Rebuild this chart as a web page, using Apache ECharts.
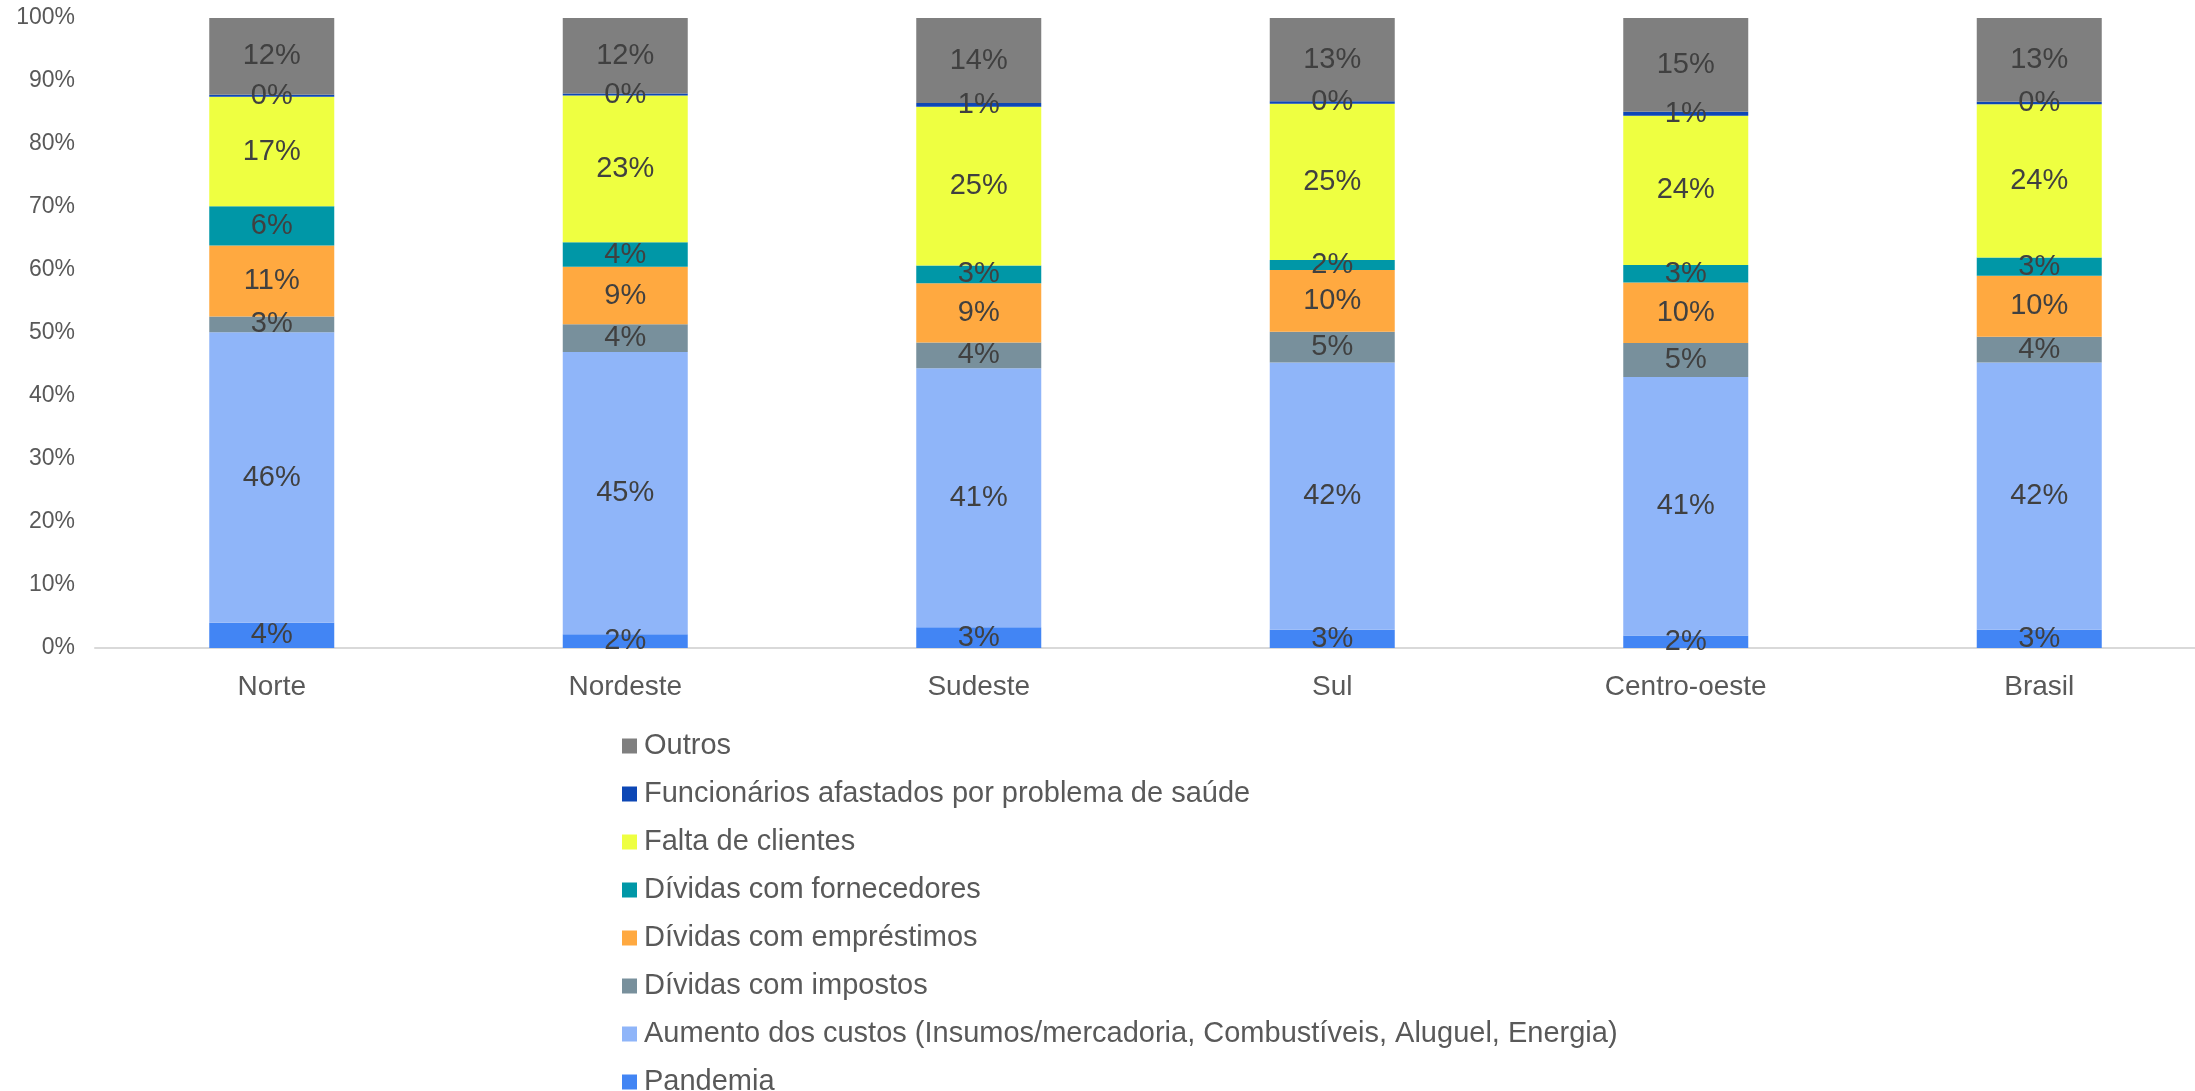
<!DOCTYPE html>
<html>
<head>
<meta charset="utf-8">
<script src="https://cdn.jsdelivr.net/npm/echarts@6/dist/echarts.min.js"></script>
<style>
  html, body { margin: 0; padding: 0; background: #fff; overflow: hidden; }
  #container { width: 2216px; height: 1091px; }
</style>
</head>
<body>
<div id="container"></div>
<script>
// regiões
var regioes = ['Norte', 'Nordeste', 'Sudeste', 'Sul', 'Centro-oeste', 'Brasil'];

// valores (%), de baixo para cima na pilha
var pandemia      = [4.0, 2.2, 3.3, 2.9, 2.0, 2.9];
var aumentoCustos = [46.1, 44.8, 41.1, 42.4, 41.0, 42.4];
var impostos      = [2.5, 4.4, 4.1, 4.9, 5.4, 4.1];
var emprestimos   = [11.3, 9.1, 9.4, 9.8, 9.6, 9.7];
var fornecedores  = [6.2, 3.9, 2.8, 1.6, 2.8, 2.9];
var faltaClientes = [17.4, 23.3, 25.2, 24.8, 23.7, 24.3];
var afastados     = [0.3, 0.3, 0.6, 0.4, 0.6, 0.4];
var outros        = [12.3, 12.2, 13.6, 13.3, 15.0, 13.3];

var nomes = [
    'Pandemia',
    'Aumento dos custos (Insumos/mercadoria, Combustíveis, Aluguel, Energia)',
    'Dívidas com impostos',
    'Dívidas com empréstimos',
    'Dívidas com fornecedores',
    'Falta de clientes',
    'Funcionários afastados por problema de saúde',
    'Outros'
];
var valores = [pandemia, aumentoCustos, impostos, emprestimos, fornecedores, faltaClientes, afastados, outros];
var cores = ['#4285F4', '#8FB5F9', '#78909C', '#FFA940', '#0097A7', '#EEFF41', '#0D47B5', '#7F7F7F'];

var fonte = '"Liberation Sans", Arial, sans-serif';

var series = nomes.map(function (nome, i) {
    return {
        name: nome,
        type: 'bar',
        stack: 'total',
        barWidth: 125,
        itemStyle: { color: cores[i] },
        label: {
            show: true,
            position: 'inside',
            fontFamily: fonte,
            fontSize: 29,
            color: '#404040',
            formatter: function (p) { return Math.round(p.value) + '%'; }
        },
        emphasis: { disabled: true },
        data: valores[i]
    };
});

var dom = document.getElementById('container');
var myChart = echarts.init(dom);
var option = {
    animation: false,
    backgroundColor: '#ffffff',
    grid: { left: 95, top: 18, right: 0, height: 630 },
    legend: {
        orient: 'vertical',
        left: 617,
        top: 725,
        height: 420,
        itemWidth: 15,
        itemHeight: 15,
        itemGap: 16,
        icon: 'rect',
        data: nomes.slice().reverse(),
        textStyle: { fontFamily: fonte, fontSize: 29, color: '#595959', lineHeight: 32, padding: [0, 0, 0, 2] }
    },
    xAxis: {
        type: 'category',
        data: regioes,
        axisLine: { lineStyle: { color: '#D9D9D9', width: 2 } },
        axisTick: { show: false },
        axisLabel: { fontFamily: fonte, fontSize: 28, color: '#595959', margin: 25 }
    },
    yAxis: {
        type: 'value',
        min: 0,
        max: 100,
        interval: 10,
        splitLine: { show: false },
        axisLine: { show: false },
        axisTick: { show: false },
        axisLabel: { fontFamily: fonte, fontSize: 23, color: '#595959', margin: 20, formatter: '{value}%' }
    },
    series: series
};
myChart.setOption(option, true);
</script>
</body>
</html>
